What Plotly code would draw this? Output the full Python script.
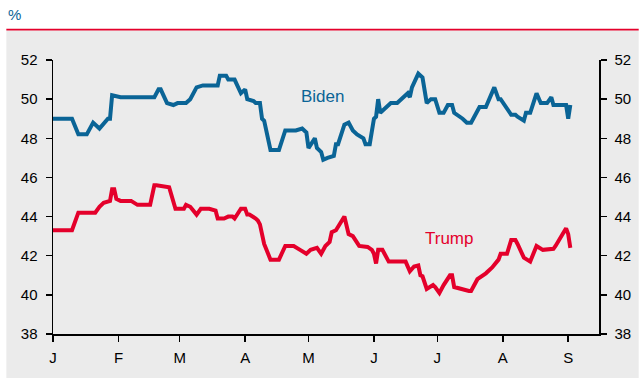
import plotly.graph_objects as go

# ---- data ----
biden_dates = ["2020-01-01","2020-01-10","2020-01-13","2020-01-17","2020-01-20","2020-01-23","2020-01-27","2020-01-28",
    "2020-01-29","2020-02-02","2020-02-18","2020-02-20","2020-02-21","2020-02-24","2020-02-27","2020-02-29","2020-03-04",
    "2020-03-06","2020-03-09","2020-03-12","2020-03-19","2020-03-20","2020-03-23","2020-03-24","2020-03-27","2020-03-29",
    "2020-03-30","2020-04-01","2020-04-02","2020-04-05","2020-04-06","2020-04-08","2020-04-09","2020-04-10","2020-04-13",
    "2020-04-17","2020-04-20","2020-04-25","2020-04-28","2020-04-30","2020-05-01","2020-05-04","2020-05-05","2020-05-07",
    "2020-05-08","2020-05-10","2020-05-13","2020-05-14","2020-05-15","2020-05-18","2020-05-20","2020-05-22","2020-05-24",
    "2020-05-27","2020-05-28","2020-05-30","2020-06-01","2020-06-02","2020-06-03","2020-06-04","2020-06-06","2020-06-09",
    "2020-06-12","2020-06-15","2020-06-17","2020-06-18","2020-06-19","2020-06-22","2020-06-24","2020-06-26","2020-06-28",
    "2020-06-30","2020-07-02","2020-07-04","2020-07-06","2020-07-08","2020-07-09","2020-07-13","2020-07-15","2020-07-17",
    "2020-07-21","2020-07-24","2020-07-28","2020-07-30","2020-07-31","2020-08-05","2020-08-07","2020-08-08","2020-08-11",
    "2020-08-12","2020-08-14","2020-08-17","2020-08-19","2020-08-22","2020-08-24","2020-08-25","2020-08-31","2020-09-01",
    "2020-09-02"]
biden_values = [49.0,49.0,48.2,48.2,48.8,48.5,49.0,49.0,
    50.2,50.1,50.1,50.5,50.5,49.8,49.7,49.8,49.8,
    50.0,50.6,50.7,50.7,51.2,51.2,51.0,51.0,50.6,
    50.3,50.5,50.0,49.9,49.8,49.8,49.0,48.9,47.4,
    47.4,48.4,48.4,48.5,48.3,47.5,48.0,47.5,47.3,
    46.9,47.0,47.1,47.7,47.7,48.7,48.8,48.4,48.2,
    48.0,47.7,47.7,49.0,49.1,50.0,49.3,49.5,49.8,
    49.8,50.1,50.3,50.1,50.6,51.3,51.1,49.8,50.0,
    50.0,49.3,49.3,49.7,49.7,49.3,49.0,48.8,48.8,
    49.6,49.6,50.6,50.0,50.0,49.2,49.2,49.1,48.9,
    49.3,49.3,50.3,49.8,49.8,50.1,49.7,49.7,49.0,
    49.7]

trump_dates = ["2020-01-01","2020-01-10","2020-01-13","2020-01-21","2020-01-23","2020-01-25","2020-01-28","2020-01-29",
    "2020-01-30","2020-01-31","2020-02-02","2020-02-07","2020-02-10","2020-02-16","2020-02-18","2020-02-19","2020-02-25",
    "2020-02-28","2020-03-03","2020-03-04","2020-03-06","2020-03-09","2020-03-11","2020-03-15","2020-03-18","2020-03-19",
    "2020-03-22","2020-03-24","2020-03-26","2020-03-27","2020-03-30","2020-04-01","2020-04-02","2020-04-03","2020-04-06",
    "2020-04-07","2020-04-08","2020-04-10","2020-04-13","2020-04-17","2020-04-20","2020-04-24","2020-04-27","2020-04-30",
    "2020-05-02","2020-05-05","2020-05-07","2020-05-09","2020-05-11","2020-05-12","2020-05-14","2020-05-18","2020-05-20",
    "2020-05-22","2020-05-25","2020-05-28","2020-05-29","2020-05-31","2020-06-01","2020-06-02","2020-06-03","2020-06-05",
    "2020-06-08","2020-06-16","2020-06-18","2020-06-20","2020-06-22","2020-06-23","2020-06-24","2020-06-26","2020-06-28",
    "2020-06-29","2020-06-30","2020-07-02","2020-07-04","2020-07-07","2020-07-08","2020-07-09","2020-07-16","2020-07-17",
    "2020-07-20","2020-07-24","2020-07-27","2020-07-30","2020-07-31","2020-08-03","2020-08-05","2020-08-07","2020-08-08",
    "2020-08-11","2020-08-14","2020-08-17","2020-08-20","2020-08-24","2020-08-25","2020-08-26","2020-08-27","2020-08-31",
    "2020-09-01","2020-09-02"]
trump_values = [43.3,43.3,44.2,44.2,44.5,44.7,44.8,45.4,
    45.4,44.9,44.8,44.8,44.6,44.6,45.6,45.6,45.5,
    44.4,44.4,44.6,44.5,44.1,44.4,44.4,44.3,43.9,
    43.9,44.0,44.0,43.9,44.4,44.4,44.1,44.1,43.9,
    43.8,43.6,42.6,41.8,41.8,42.5,42.5,42.3,42.1,
    42.3,42.4,42.1,42.5,42.7,43.2,43.3,44.0,43.1,
    43.0,42.5,42.5,42.45,42.3,42.1,41.6,42.3,42.3,
    41.7,41.7,41.2,41.45,41.5,41.0,40.95,40.3,40.4,
    40.5,40.4,40.1,40.5,41.0,41.0,40.4,40.2,40.2,
    40.8,41.1,41.4,41.8,42.1,42.1,42.8,42.8,42.6,
    41.9,41.7,42.5,42.3,42.3,42.35,42.5,42.7,43.4,
    43.1,42.4]

month_ticks = ["2020-01-01","2020-02-01","2020-03-01","2020-04-01","2020-05-01",
               "2020-06-01","2020-07-01","2020-08-01","2020-09-01"]
month_labels = ["J","F","M","A","M","J","J","A","S"]
y_ticks = [38, 40, 42, 44, 46, 48, 50, 52]

BLUE = "#0a6496"
RED = "#e4002b"
GRAY = "#ebebeb"
FONT = "Liberation Sans, Arial, sans-serif"

fig = go.Figure()
fig.add_trace(go.Scatter(x=biden_dates, y=biden_values, mode="lines",
                         line=dict(color=BLUE, width=4), name="Biden", hoverinfo="skip"))
fig.add_trace(go.Scatter(x=trump_dates, y=trump_values, mode="lines",
                         line=dict(color=RED, width=4), name="Trump", hoverinfo="skip"))
# invisible trace to activate the right-hand axis
fig.add_trace(go.Scatter(x=biden_dates, y=biden_values, mode="lines", yaxis="y2",
                         line=dict(color="rgba(0,0,0,0)", width=0), showlegend=False, hoverinfo="skip"))

L, R, T, B = 53, 40, 60, 43
W, H = 643, 378
pw, ph = W - L - R, H - T - B

axis_common = dict(range=[38, 52], tickvals=y_ticks, showgrid=False, zeroline=False,
                   showline=True, linecolor="black", linewidth=1.5, ticks="outside",
                   ticklen=6, tickwidth=1.5, tickcolor="black",
                   tickfont=dict(family=FONT, size=15, color="black"), ticklabelstandoff=5)

fig.update_layout(
    width=W, height=H,
    margin=dict(l=L, r=R, t=T, b=B, pad=0),
    paper_bgcolor="white", plot_bgcolor=GRAY,
    showlegend=False,
    font=dict(family=FONT),
    xaxis=dict(type="date", range=["2020-01-01", "2020-09-15 14:00"],
               tickvals=month_ticks, ticktext=month_labels, showgrid=False, zeroline=False,
               showline=True, linecolor="black", linewidth=1.5, ticks="outside",
               ticklen=6, tickwidth=1.5, tickcolor="black",
               tickfont=dict(family=FONT, size=15, color="black"), ticklabelstandoff=3),
    yaxis=dict(side="left", **axis_common),
    yaxis2=dict(side="right", overlaying="y", **axis_common),
    shapes=[
        dict(type="rect", xref="paper", yref="paper", layer="below",
             x0=(6 - L) / pw, x1=(W - L) / pw, y0=-B / ph - 0.01, y1=(H - B - 30.5) / ph,
             fillcolor=GRAY, line=dict(width=0)),
        dict(type="line", xref="paper", yref="paper",
             x0=(6 - L) / pw, x1=(W - L) / pw, y0=(H - B - 29.5) / ph, y1=(H - B - 29.5) / ph,
             line=dict(color=RED, width=1.8)),
    ],
    annotations=[
        dict(text="%", xref="paper", yref="paper", x=(14 - L) / pw, y=(H - B - 14.5) / ph,
             showarrow=False, font=dict(family=FONT, size=15, color=BLUE), xanchor="center", yanchor="middle"),
        dict(text="Biden", xref="paper", yref="paper", x=(324 - L) / pw, y=(H - B - 97) / ph,
             showarrow=False, font=dict(family=FONT, size=17, color=BLUE), xanchor="center", yanchor="middle"),
        dict(text="Trump", xref="paper", yref="paper", x=(452 - L) / pw, y=(H - B - 239) / ph,
             showarrow=False, font=dict(family=FONT, size=17, color=RED), xanchor="center", yanchor="middle"),
    ],
)

fig.write_html("out.html", config={"displayModeBar": False, "staticPlot": True},
               post_script="document.body.style.margin='0';document.body.style.overflow='hidden';")
